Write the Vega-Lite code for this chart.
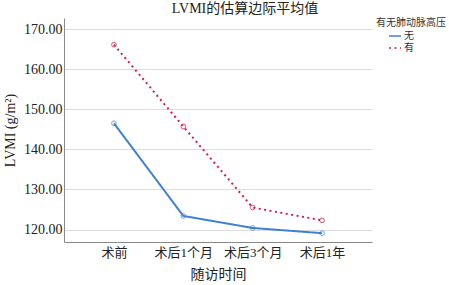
{
  "$schema": "https://vega.github.io/schema/vega-lite/v6.json",
  "width": 308,
  "height": 224,
  "autosize": {"type": "none"},
  "padding": {"left": 64, "top": 18, "right": 77, "bottom": 43},
  "background": "white",
  "config": {
    "font": "Liberation Serif, Noto Sans CJK SC",
    "view": {"stroke": null},
    "axis": {"labelFont": "Liberation Serif, Noto Sans CJK SC", "titleFont": "Liberation Serif, Noto Sans CJK SC", "labelColor": "#222", "titleColor": "#222", "titleFontWeight": "normal"},
    "legend": {"labelFont": "Liberation Serif, Noto Sans CJK SC", "titleFont": "Liberation Serif, Noto Sans CJK SC"}
  },
  "title": {
    "text": "LVMI的估算边际平均值",
    "fontSize": 14,
    "fontWeight": "normal",
    "color": "#222",
    "font": "Liberation Serif, Noto Sans CJK SC",
    "anchor": "middle",
    "dx": 27,
    "offset": 2
  },
  "data": {
    "values": [
      {"time": "术前", "group": "无", "value": 146.5},
      {"time": "术后1个月", "group": "无", "value": 123.4},
      {"time": "术后3个月", "group": "无", "value": 120.4},
      {"time": "术后1年", "group": "无", "value": 119.1},
      {"time": "术前", "group": "有", "value": 166.1},
      {"time": "术后1个月", "group": "有", "value": 145.7},
      {"time": "术后3个月", "group": "有", "value": 125.5},
      {"time": "术后1年", "group": "有", "value": 122.3}
    ]
  },
  "encoding": {
    "x": {
      "field": "time",
      "type": "ordinal",
      "sort": ["术前", "术后1个月", "术后3个月", "术后1年"],
      "scale": {"type": "point", "padding": 0.72},
      "axis": {
        "title": "随访时间",
        "titleFontSize": 14,
        "titlePadding": 8,
        "labelFontSize": 13,
        "labelAngle": 0,
        "labelPadding": 4,
        "ticks": false,
        "domainColor": "#888",
        "grid": false
      }
    },
    "y": {
      "field": "value",
      "type": "quantitative",
      "scale": {"domain": [116.9, 172.75], "nice": false, "zero": false},
      "axis": {
        "title": "LVMI (g/m²)",
        "titleFontSize": 14,
        "titlePadding": 6,
        "labelFontSize": 14,
        "labelPadding": 2,
        "values": [120, 130, 140, 150, 160, 170],
        "format": ".2f",
        "ticks": false,
        "domainColor": "#888",
        "gridColor": "#dcdcdc",
        "gridWidth": 1.2
      }
    },
    "color": {
      "field": "group",
      "type": "nominal",
      "scale": {"domain": ["无", "有"], "range": ["#3f80d4", "#d21d48"]},
      "legend": {
        "title": "有无肺动脉高压",
        "orient": "right",
        "offset": 4,
        "padding": 0,
        "titleFontSize": 10,
        "titleFontWeight": "normal",
        "titleColor": "#333",
        "titlePadding": 1,
        "labelFontSize": 10,
        "labelColor": "#333",
        "labelOffset": 2,
        "rowPadding": 0,
        "symbolType": "stroke",
        "symbolSize": 144,
        "symbolStrokeWidth": 2,
        "symbolOffset": 12
      }
    }
  },
  "layer": [
    {
      "mark": {"type": "line", "strokeWidth": 2},
      "encoding": {
        "strokeDash": {
          "field": "group",
          "type": "nominal",
          "scale": {"domain": ["无", "有"], "range": [[1, 0], [2, 3.5]]},
          "legend": {
            "title": "有无肺动脉高压",
            "orient": "right",
            "offset": 4,
            "padding": 0,
            "titleFontSize": 10,
            "titleFontWeight": "normal",
            "titleColor": "#333",
            "titlePadding": 1,
            "labelFontSize": 10,
            "labelColor": "#333",
            "labelOffset": 2,
            "rowPadding": 0,
            "symbolType": "stroke",
            "symbolSize": 144,
            "symbolStrokeWidth": 2,
            "symbolOffset": 12
          }
        }
      }
    },
    {
      "mark": {"type": "point", "shape": "circle", "filled": false, "size": 22, "strokeWidth": 1, "opacity": 0.75},
      "encoding": {}
    }
  ]
}
